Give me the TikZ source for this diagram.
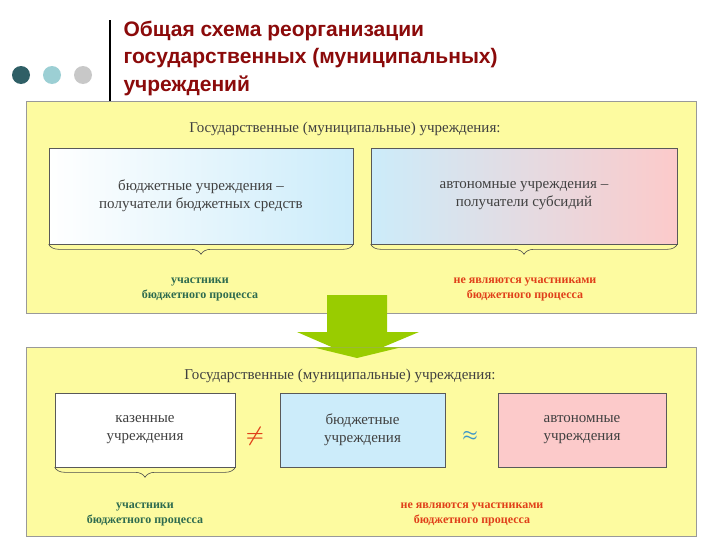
\documentclass[tikz,border=0pt]{standalone}
\usepackage{amsmath}
\usepackage{fontspec}
\setmainfont{Liberation Serif}
\newfontfamily\titlefont{Liberation Sans}
\usetikzlibrary{positioning,decorations.pathreplacing,shapes.arrows}
\definecolor{panelyellow}{HTML}{FDFBA0}
\definecolor{titlered}{HTML}{8B0A0A}
\definecolor{okgreen}{HTML}{2E6B4F}
\definecolor{nored}{HTML}{E0401A}
\definecolor{boxblue}{HTML}{CCECFA}
\definecolor{boxpink}{HTML}{FCCACA}
\definecolor{arrowgreen}{HTML}{99CC00}
\tikzset{
  panel/.style={draw=gray!80, fill=panelyellow, line width=0.6pt},
  orgbox/.style={draw=gray!70!black, line width=0.6pt, text=black!75, font=\fontsize{15}{18}\selectfont, align=center, inner sep=0pt},
  caption/.style={text=black!75, font=\fontsize{15}{18}\selectfont},
  partlabel/.style={font=\bfseries\fontsize{12}{15}\selectfont, align=center},
  bracedown/.style={decorate, decoration={brace, mirror, amplitude=10pt}, draw=gray!60!black, line width=0.6pt}
}
\begin{document}
\begin{tikzpicture}[x=1pt, y=-1pt]
  \useasboundingbox (0,0) rectangle (728,546);

  % Title and dots
  \draw[line width=2.5pt] (110,20) -- (110,101);
  \node[anchor=west, text=titlered, align=left, font=\titlefont\bfseries\fontsize{21}{27.5}\selectfont] (title) at (120,58)
    {Общая схема реорганизации\\государственных (муниципальных)\\учреждений};
  \fill[color={rgb,255:red,47;green,95;blue,102}] (21,75) circle (9);
  \fill[color={rgb,255:red,156;green,207;blue,212}] (52,75) circle (9);
  \fill[color={rgb,255:red,200;green,200;blue,200}] (83,75) circle (9);

  % Top panel
  \draw[panel] (26,101) rectangle (696,313);
  \node[caption] (topcap) at (345,129) {Государственные (муниципальные) учреждения:};
  \shade[left color=white, right color=boxblue] (49,148) rectangle (353,244);
  \node[orgbox, minimum width=304pt, minimum height=96pt] (budgetA) at (201,196)
    {бюджетные учреждения –\\получатели бюджетных средств};
  \shade[left color=boxblue, right color=boxpink] (371,148) rectangle (677,244);
  \node[orgbox, minimum width=306pt, minimum height=96pt] (autoA) at (524,196)
    {автономные учреждения –\\получатели субсидий};
  \draw[bracedown] (budgetA.south west) -- (budgetA.south east);
  \draw[bracedown] (autoA.south west) -- (autoA.south east);
  \node[partlabel, text=okgreen] (partA) at (200,289) {участники\\бюджетного процесса};
  \node[partlabel, text=nored] (nopartA) at (525,289) {не являются участниками\\бюджетного процесса};

  % Arrow
  \fill[arrowgreen] (327,295) -- (387,295) -- (387,332) -- (419,332) -- (357,358) -- (297,332) -- (327,332) -- cycle;

  % Bottom panel
  \draw[panel] (26,347) rectangle (696,536);
  \fill[arrowgreen] (313,347.3) -- (401,347.3) -- (357,358) -- cycle;
  \node[caption] (botcap) at (340,376) {Государственные (муниципальные) учреждения:};
  \node[orgbox, fill=white, minimum width=180pt, minimum height=74pt] (kazB) at (145,430) {казенные\\учреждения};
  \node[orgbox, fill=boxblue, minimum width=165pt, minimum height=74pt] (budgetB) at (362.5,430) {бюджетные\\учреждения};
  \node[orgbox, fill=boxpink, minimum width=168pt, minimum height=74pt] (autoB) at (582,430) {автономные\\учреждения};
  \node[text=nored, font=\fontsize{22}{22}\selectfont] (neq) at (255,436) {$\boldsymbol{\neq}$};
  \node[text={rgb,255:red,60;green,150;blue,200}, font=\fontsize{18}{18}\selectfont] (approx) at (470,436) {$\boldsymbol{\approx}$};
  \draw[bracedown] (kazB.south west) -- (kazB.south east);
  \node[partlabel, text=okgreen] (partB) at (145,514) {участники\\бюджетного процесса};
  \node[partlabel, text=nored] (nopartB) at (472,514) {не являются участниками\\бюджетного процесса};
\end{tikzpicture}
\end{document}
